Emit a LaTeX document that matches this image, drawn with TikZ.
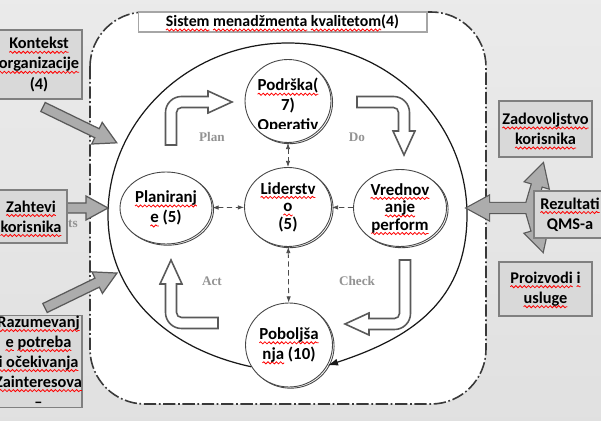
\documentclass[tikz,border=0pt]{standalone}
\usepackage{fontspec}
\setmainfont{Carlito}
\newfontfamily\pdcafont{Liberation Serif}
\usetikzlibrary{arrows.meta,shapes.geometric,shadows,decorations.pathmorphing}

% red spell-check wave under a word
\newsavebox\sqbox
\newlength\sqlen
\newcommand\sq[1]{\sbox\sqbox{#1}\setlength\sqlen{\wd\sqbox}\leavevmode
  \rlap{\tikz[baseline=0pt,x=1pt,y=1pt,overlay]{\pgftransformreset
    \draw[red, line width=0.45pt, decorate, decoration={snake,amplitude=0.6pt,segment length=2.4pt}]
      (0pt,-1.9pt) -- (\sqlen,-1.9pt);}}\usebox\sqbox}
\newcommand\titlefont{\fontsize{9pt}{11.4pt}\selectfont\bfseries}
\newcommand\boxfont{\fontsize{9.3pt}{11.4pt}\selectfont\bfseries}
\newcommand\stagefont{\fontsize{9.6pt}{11.4pt}\selectfont\bfseries}
\newcommand\tightfont{\fontsize{9.6pt}{10pt}\selectfont\bfseries}
\newcommand\labelfont{\pdcafont\fontsize{7.5pt}{9pt}\selectfont\bfseries}

\tikzset{
  pics/bentarr/.style 2 args={code={
    \draw[pdca] (-5.5,0) -- (-5.5,-#1+10.5) arc[start angle=180,end angle=270,radius=16]
      -- (#2-24,-#1-5.5) -- (#2-24,-#1-11) -- (#2,-#1) -- (#2-24,-#1+11)
      -- (#2-24,-#1+5.5) -- (10.5,-#1+5.5) arc[start angle=270,end angle=180,radius=5]
      -- (5.5,0) -- cycle;}},
  pics/blockarr/.style 2 args={code={
    \path[#2] (0,-5) -- (#1-22,-5) -- (#1-22,-12) -- (#1,0) -- (#1-22,12)
      -- (#1-22,5) -- (0,5) -- cycle;}}
}

\begin{document}
\begin{tikzpicture}[x=0.02cm,y=-0.02cm,
    qmsframe/.style={draw=gray!45!black, fill=white, line width=0.9pt, rounded corners=1.1cm,
      dash pattern=on 7pt off 1.5pt on 1pt off 1.5pt},
    titlebox/.style={draw=gray!70, fill=white, line width=0.6pt, inner sep=0pt,
      minimum width=5.78cm, minimum height=0.4cm, font=\titlefont},
    qbox/.style={draw=gray, fill=gray!30, line width=0.6pt, inner sep=0pt, align=center, font=\boxfont},
    stage/.style={ellipse, draw=gray!55!black, fill=white, line width=0.5pt, inner sep=0pt,
      align=center, font=\stagefont, copy shadow={shadow xshift=0.9pt, shadow yshift=-0.7pt}},
    stagetext/.style={align=center, font=\stagefont, inner sep=0pt},
    cyclepath/.style={draw=gray!20!black, line width=0.7pt, -{Latex[length=6pt,width=4pt]}},
    pdca/.style={draw=gray!70!black, fill=white, line width=0.9pt},
    pdcalabel/.style={font=\labelfont, text=gray!85, inner sep=0pt},
    link/.style={densely dashed, draw=gray!60!black, line width=0.45pt, >={Latex[length=3.5pt,width=2.5pt]}},
    garrow/.style={draw=gray!70!black, fill=gray!65, line width=0.7pt},
    gedge/.style={draw=gray!70!black, line width=1.4pt},
    gfill/.style={fill=gray!65}]
\useasboundingbox (0,0) rectangle (601,421);
\fill[top color=gray!16, bottom color=gray!24] (0,0) rectangle (601,421);

% system frame and title
\draw[qmsframe] (90,12) rectangle (486,404);
\node[titlebox] (title) at (282.5,22) {\sq{Sistem} \sq{menadžmenta} \sq{kvalitetom}(4)};

% stages
\node[stage, minimum width=1.72cm, minimum height=1.66cm] (podr) at (288,101) {};
\begin{scope}
  \clip (240,55) rectangle (340,129);
  \node[stagetext] (podrtext) at (288,106) {\sq{Podrška(}\\7)\\Operativ};
\end{scope}
\node[stage, minimum width=1.74cm, minimum height=1.58cm, font=\tightfont] (lider) at (288,207) {\sq{Liderstv}\\\sq{o}\\(5)};
\node[stage, minimum width=1.84cm, minimum height=1.44cm] (planir) at (166,208) {\sq{Planiranj}\\\sq{e} (5)};
\node[stage, minimum width=1.86cm, minimum height=1.54cm, font=\tightfont] (vred) at (400,208) {\sq{Vrednov}\\\sq{anje}\\\sq{perform}};
\node[stage, minimum width=1.74cm, minimum height=1.68cm] (pobolj) at (289,345) {\sq{Poboljša}\\\sq{nja} (10)};

% outer cycle
\draw[cyclepath] (pobolj.210) .. controls (169,349) and (108,296) .. (108,215)
  .. controls (108,120) and (189,43) .. (288,43)
  .. controls (387,43) and (467,120) .. (467,215)
  .. controls (467,305) and (405,340) .. (pobolj.332);

% PDCA arrows
\pic at (171,145) {bentarr={43}{61}};
\pic[rotate=-90] at (357,102) {bentarr={47}{53}};
\pic[rotate=180] at (405,260) {bentarr={64}{60}};
\pic[rotate=90] at (218,323) {bentarr={47}{63}};

\node[pdcalabel] (plan) at (212,137) {Plan};
\node[pdcalabel] (do) at (357,137) {Do};
\node[pdcalabel] (check) at (357,281) {Check};
\node[pdcalabel] (act) at (212,281) {Act};

% links between stages
\draw[link, <->] (planir) -- (lider);
\draw[link, ->] (vred) -- (lider);
\draw[link, <->] (podr) -- (lider);
\draw[link, <->] (lider) -- (pobolj);

% inputs
\pic[rotate=-25.9] at (43,107) {blockarr={82}{garrow}};
\pic at (62,208) {blockarr={46}{garrow}};
\pic[rotate=25.9] at (45,308) {blockarr={80}{garrow}};
\node[pdcalabel] (ts) at (73,224) {ts};

% outputs
\pic[rotate=180] at (536,208) {blockarr={69}{gedge}};
\pic[rotate=73.7] at (531,205) {blockarr={43}{gedge}};
\pic[rotate=-73.7] at (531,211) {blockarr={42}{gedge}};
\pic[rotate=180] at (536,208) {blockarr={69}{gfill}};
\pic[rotate=73.7] at (531,205) {blockarr={43}{gfill}};
\pic[rotate=-73.7] at (531,211) {blockarr={42}{gfill}};

% side boxes
\node[qbox, minimum width=1.72cm, minimum height=1.38cm] (kont) at (39,64.5) {\sq{Kontekst}\\\sq{organizacije}\\(4)};
\node[qbox, minimum width=1.44cm, minimum height=1.06cm] (zaht) at (31,216.5) {\sq{Zahtevi}\\\sq{korisnika}};
\node[qbox, minimum width=1.74cm, minimum height=1.78cm] (razum) at (38.5,361.5) {\sq{Razumevanj}\\\sq{e} \sq{potreba}\\\sq{i očekivanja}\\\sq{Zainteresova}\\–};
\node[qbox, minimum width=1.86cm, minimum height=1.12cm] (zadov) at (545.5,129) {\sq{Zadovoljstvo}\\\sq{korisnika}};
\node[qbox, minimum width=1.44cm, minimum height=0.94cm] (rezult) at (570,214.5) {\sq{Rezultati}\\QMS-a};
\node[qbox, minimum width=1.86cm, minimum height=1.08cm] (proizv) at (545.5,289) {\sq{Proizvodi} \sq{i}\\\sq{usluge}};
\end{tikzpicture}
\end{document}
